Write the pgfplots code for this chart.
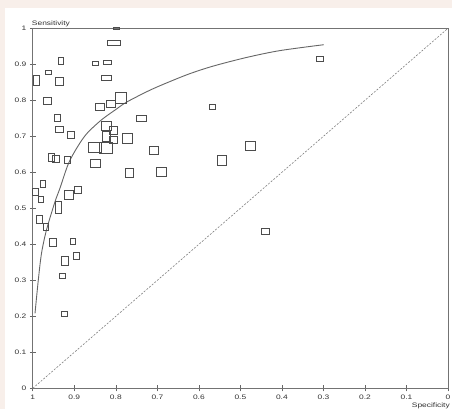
\documentclass[border=0pt]{standalone}
\usepackage{fontspec}
\setmainfont{Liberation Sans}[FakeStretch=1.3]
\usepackage{pgfplots}
\usepackage{pgfplotstable}
\pgfplotsset{compat=1.18}
\definecolor{pinkbg}{HTML}{F8EFEA}

\pgfdeclareplotmark{sbox}{%
  \pgfpathrectanglecorners{\pgfqpoint{-\bw bp}{-\bh bp}}{\pgfqpoint{\bw bp}{\bh bp}}%
  \pgfusepathqstroke}

\pgfplotstableread{
spec sens hw hh
0.798 1.000 3.0 1.4
0.805 0.960 6.5 2.7
0.932 0.909 2.4 3.4
0.962 0.879 2.9 2.0
0.850 0.903 3.0 1.7
0.820 0.906 4.3 2.0
0.823 0.863 5.0 2.7
0.991 0.856 2.7 5.0
0.936 0.854 4.0 4.0
0.965 0.799 4.0 3.4
0.941 0.751 3.0 3.4
0.838 0.781 4.3 3.7
0.812 0.790 4.7 3.7
0.788 0.806 5.3 5.3
0.935 0.718 4.0 3.0
0.909 0.704 3.7 3.4
0.823 0.729 4.7 4.7
0.806 0.716 3.7 3.7
0.738 0.750 5.0 3.0
0.823 0.699 4.0 5.0
0.806 0.690 3.7 3.7
0.772 0.694 4.7 4.7
0.850 0.669 6.3 5.0
0.824 0.668 6.3 5.3
0.708 0.661 4.7 4.0
0.955 0.642 2.7 3.7
0.944 0.637 3.7 3.4
0.916 0.634 3.0 3.4
0.849 0.625 5.0 3.7
0.767 0.599 3.7 4.3
0.690 0.601 5.0 4.7
0.976 0.569 2.4 3.4
0.994 0.546 2.7 3.5
0.913 0.538 4.3 4.3
0.891 0.551 3.3 3.5
0.980 0.525 2.7 2.7
0.939 0.504 3.0 6.0
0.984 0.469 3.4 3.7
0.969 0.449 2.7 3.4
0.952 0.406 3.4 4.0
0.904 0.408 2.4 2.7
0.923 0.354 3.4 4.7
0.896 0.368 3.0 3.4
0.928 0.313 3.0 2.4
0.923 0.206 3.0 2.4
0.309 0.916 3.4 2.4
0.567 0.781 3.0 2.7
0.476 0.673 4.7 4.4
0.545 0.633 4.7 5.0
0.440 0.436 4.0 2.7
}\boxes

\begin{document}
\begin{tikzpicture}
\useasboundingbox (0,0) rectangle (452bp,409bp);
\fill[pinkbg] (0,0) rectangle (452bp,409bp);
\fill[white] (5bp,0) rectangle (452bp,401bp);
\begin{axis}[
  at={(32.8bp,20.7bp)}, anchor=south west,
  scale only axis, width=415.2bp, height=360bp,
  xmin=0, xmax=1, ymin=0, ymax=1, x dir=reverse,
  xtick={0,0.1,0.2,0.3,0.4,0.5,0.6,0.7,0.8,0.9,1},
  ytick={0,0.1,0.2,0.3,0.4,0.5,0.6,0.7,0.8,0.9,1},
  tick pos=left, tick align=center, major tick length=6bp,
  tick style={black!60, line width=0.6bp},
  axis line style={black!55, line width=0.8bp},
  /pgf/number format/assume math mode=true,
  ticklabel style={font=\fontsize{6.5}{7.5}\selectfont, text=black!80},
  clip=false,
]
\addplot[black!50, line width=0.6bp, dash pattern=on 2bp off 1.5bp] coordinates {(1,0) (0,1)};
\addplot[black!60, line width=0.9bp, smooth] coordinates {
(0.9947,0.208) (0.9868,0.300) (0.979,0.375) (0.967,0.440) (0.9466,0.518)
(0.9345,0.556) (0.9146,0.623) (0.8943,0.667) (0.8703,0.707) (0.8342,0.746)
(0.7981,0.776) (0.774,0.795) (0.718,0.828) (0.6698,0.852) (0.6217,0.874)
(0.5656,0.895) (0.4852,0.919) (0.405,0.938) (0.2992,0.9544)};
\addplot[only marks, mark=sbox, mark options={draw=black!70, line width=0.7bp},
  visualization depends on={\thisrow{hw}\as\bw},
  visualization depends on={\thisrow{hh}\as\bh}]
  table[x=spec, y=sens] {\boxes};
\node[anchor=base west, inner sep=0, font=\fontsize{6.5}{7.5}\selectfont, text=black!80]
  at ([xshift=-1bp, yshift=3bp]axis description cs:0,1) {Sensitivity};
\node[anchor=base east, inner sep=0, font=\fontsize{6.5}{7.5}\selectfont, text=black!80]
  at ([xshift=2bp, yshift=-19bp]axis description cs:1,0) {Specificity};
\end{axis}
\end{tikzpicture}
\end{document}
